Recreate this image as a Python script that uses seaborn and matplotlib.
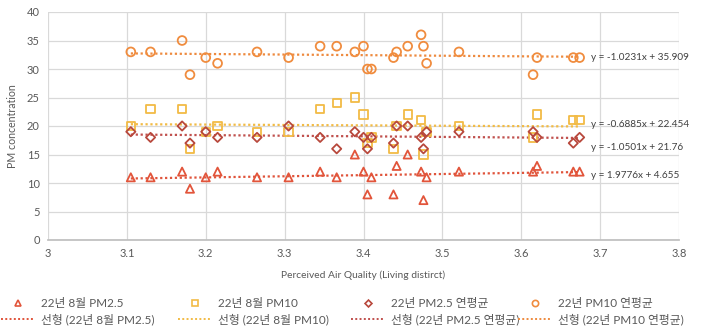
import numpy as np
import pandas as pd
import matplotlib
matplotlib.use("Agg")
import matplotlib.pyplot as plt
from matplotlib.lines import Line2D
import seaborn as sns

# Perceived air quality score per district (x) and PM concentrations (y)
air_quality = [3.105, 3.13, 3.17, 3.18, 3.20, 3.215, 3.265, 3.305, 3.345, 3.366,
               3.389, 3.40, 3.405, 3.41, 3.438, 3.442, 3.456, 3.473, 3.476, 3.48,
               3.521, 3.615, 3.62, 3.666, 3.674]
pm25_aug = [11, 11, 12, 9, 11, 12, 11, 11, 12, 11,
            15, 12, 8, 11, 8, 13, 15, 12, 7, 11,
            12, 12, 13, 12, 12]
pm10_aug = [20, 23, 23, 16, 19, 20, 19, 19, 23, 24,
            25, 22, 17, 18, 16, 20, 22, 21, 15, 19,
            20, 18, 22, 21, 21]
pm25_year = [19, 18, 20, 17, 19, 18, 18, 20, 18, 16,
             19, 18, 16, 18, 17, 20, 20, 18, 16, 19,
             19, 19, 18, 17, 18]
pm10_year = [33, 33, 35, 29, 32, 31, 33, 32, 34, 34,
             33, 34, 30, 30, 32, 33, 34, 36, 34, 31,
             33, 29, 32, 32, 32]

series_names = ["22년 8월 PM2.5", "22년 8월 PM10", "22년 PM2.5 연평균", "22년 PM10 연평균"]
series_values = [pm25_aug, pm10_aug, pm25_year, pm10_year]
trend_slopes = [1.9776, -0.6885, -1.0501, -1.0231]
trend_intercepts = [4.655, 22.454, 21.76, 35.909]
trend_labels = ["y = 1.9776x + 4.655", "y = -0.6885x + 22.454",
                "y = -1.0501x + 21.76", "y = -1.0231x + 35.909"]
label_y = [11.4, 20.3, 16.2, 32.0]

marker_styles = ["^", "s", "D", "o"]
marker_sizes = [34, 36, 22, 40]
marker_colors = ["#E2553B", "#F2BB45", "#B8483C", "#F08C3E"]
line_colors = ["#E0533A", "#F2BB45", "#C0504D", "#EE8A3E"]

sns.set_theme(style="white")
plt.rcParams["font.family"] = ["Lato", "Noto Sans CJK KR", "DejaVu Sans"]
text_grey = "#595959"

fig = plt.figure(figsize=(7.01, 3.32), dpi=100)
ax = fig.add_axes([48 / 701, 1 - 240 / 332, 631 / 701, 228 / 332])

df = pd.DataFrame({"x": air_quality})
x_end = np.array([min(air_quality), max(air_quality)])

for name, vals, mk, ms, mc, lc, a, b in zip(series_names, series_values, marker_styles,
                                             marker_sizes, marker_colors, line_colors,
                                             trend_slopes, trend_intercepts):
    df[name] = vals
    sns.lineplot(x=x_end, y=a * x_end + b, ax=ax, color=lc, linestyle=(0, (1, 1.2)),
                 linewidth=1.6, zorder=2)
    sns.scatterplot(data=df, x="x", y=name, ax=ax, marker=mk, s=ms, color=mc,
                    facecolor="none", edgecolor=mc, linewidth=1.3, zorder=3)

for txt, ty in zip(trend_labels, label_y):
    ax.text(3.688, ty, txt, fontsize=7.2, color="#404040", va="center", ha="left")

ax.set_xlim(3.0, 3.8)
ax.set_ylim(0, 40)
ax.set_xticks(np.arange(3.0, 3.81, 0.1))
ax.set_xticklabels([f"{v:g}" for v in np.round(np.arange(3.0, 3.81, 0.1), 1)])
ax.set_yticks(np.arange(0, 41, 5))
ax.grid(True, color="#D9D9D9", linewidth=0.9)
for side in ["top", "right", "left"]:
    ax.spines[side].set_visible(False)
ax.spines["bottom"].set_color("#BFBFBF")
ax.tick_params(axis="both", labelsize=8, colors=text_grey, length=0, pad=6)
ax.set_xlabel("Perceived Air Quality (Living distirct)", fontsize=7.4, color=text_grey, labelpad=8)
ax.set_ylabel("PM concentration", fontsize=7.6, color=text_grey, labelpad=6)

# Legend: one column per series, marker entry above its linear trend entry
col_x = [1, 178, 351, 518]
for name, mk, mc, lc, cx in zip(series_names, marker_styles, marker_colors, line_colors, col_x):
    h_marker = Line2D([], [], linestyle="none", marker=mk, markersize=4.5 if mk != "D" else 3.5,
                      markerfacecolor="none", markeredgecolor=mc, markeredgewidth=1.2)
    h_line = Line2D([], [], color=lc, linestyle=(0, (1, 1.2)), linewidth=1.4)
    fig.legend(handles=[h_marker, h_line], labels=[name, f"선형 ({name})"],
               loc="upper left", bbox_to_anchor=(cx / 701, 1 - 298 / 332),
               frameon=False, fontsize=8.5, handlelength=2.8, handletextpad=0.55,
               labelspacing=0.38, borderpad=0, borderaxespad=0, labelcolor=text_grey)

fig.savefig("out.png", dpi=100)
